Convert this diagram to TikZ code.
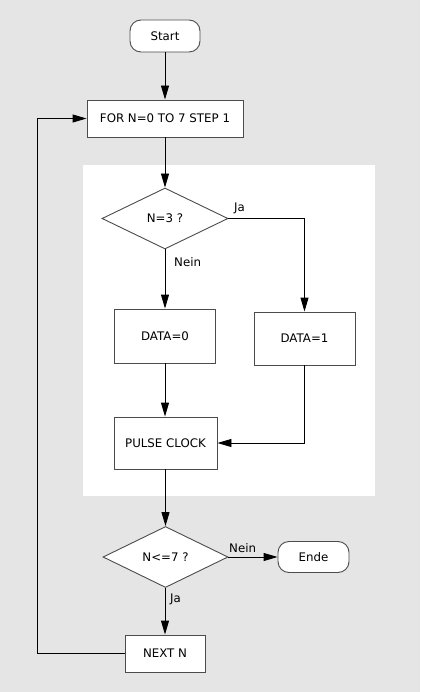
\documentclass[tikz,border=0pt]{standalone}
\usepackage{fontspec}
\setmainfont{DejaVu Sans}
\usetikzlibrary{shapes.geometric,arrows.meta}
\begin{document}
\begin{tikzpicture}[x=1pt,y=-1pt,
  base/.style={draw=black!70, fill=white, inner sep=0pt, line width=0.9pt, font=\fontsize{11.8}{14}\selectfont},
  proc/.style={base, rectangle},
  term/.style={base, rectangle, rounded corners=11pt},
  dec/.style={base, diamond},
  lbl/.style={font=\fontsize{11.8}{14}\selectfont, inner sep=0pt},
  arr/.style={draw=black, line width=0.9pt, -{Triangle[length=14pt,width=8pt]}},
  ln/.style={draw=black, line width=0.9pt}]
\useasboundingbox (0,0) rectangle (420,692);
\fill[black!10] (0,0) rectangle (420,692);
\fill[white] (83,165) rectangle (375,496);
\node[term, minimum width=70pt, minimum height=32pt] (start) at (165,36) {Start};
\node[proc, minimum width=156pt, minimum height=37pt] (for) at (165,118.5) {FOR N=0 TO 7 STEP 1};
\node[dec, minimum width=126pt, minimum height=61pt] (d1) at (165,218.5) {N=3 ?};
\node[proc, minimum width=101pt, minimum height=54pt] (data0) at (165,336) {DATA=0};
\node[proc, minimum width=101pt, minimum height=53pt] (data1) at (304.5,338.5) {DATA=1};
\node[proc, minimum width=103pt, minimum height=52pt] (pulse) at (165.5,443) {PULSE CLOCK};
\node[dec, minimum width=125pt, minimum height=61pt] (d2) at (165.5,557) {N<=7 ?};
\node[term, minimum width=71pt, minimum height=31pt] (ende) at (313.5,557) {Ende};
\node[proc, minimum width=80pt, minimum height=37pt] (next) at (165,653.5) {NEXT N};
\coordinate (lp) at (37,653.5);
\draw[arr] (start) -- (for);
\draw[arr] (for) -- (d1);
\draw[arr] (d1.east) -| (data1.north);
\node[lbl, anchor=west] (ja1) at (234,208) {Ja};
\draw[arr] (d1.south) -- (data0.north);
\node[lbl, anchor=west] (nein1) at (174,262) {Nein};
\draw[arr] (data0.south) -- (data0.south |- pulse.north);
\draw[arr] (data1.south) |- (pulse.east);
\draw[arr] (pulse.south) -- (pulse.south |- d2.north);
\draw[arr] (d2.east) -- (ende.west);
\node[lbl, anchor=west] (nein2) at (229,548.5) {Nein};
\draw[arr] (d2.south -| next.north) -- (next.north);
\node[lbl, anchor=west] (ja2) at (170,599) {Ja};
\draw[arr] (next.west) -- (lp) |- (for.west);
\end{tikzpicture}
\end{document}
